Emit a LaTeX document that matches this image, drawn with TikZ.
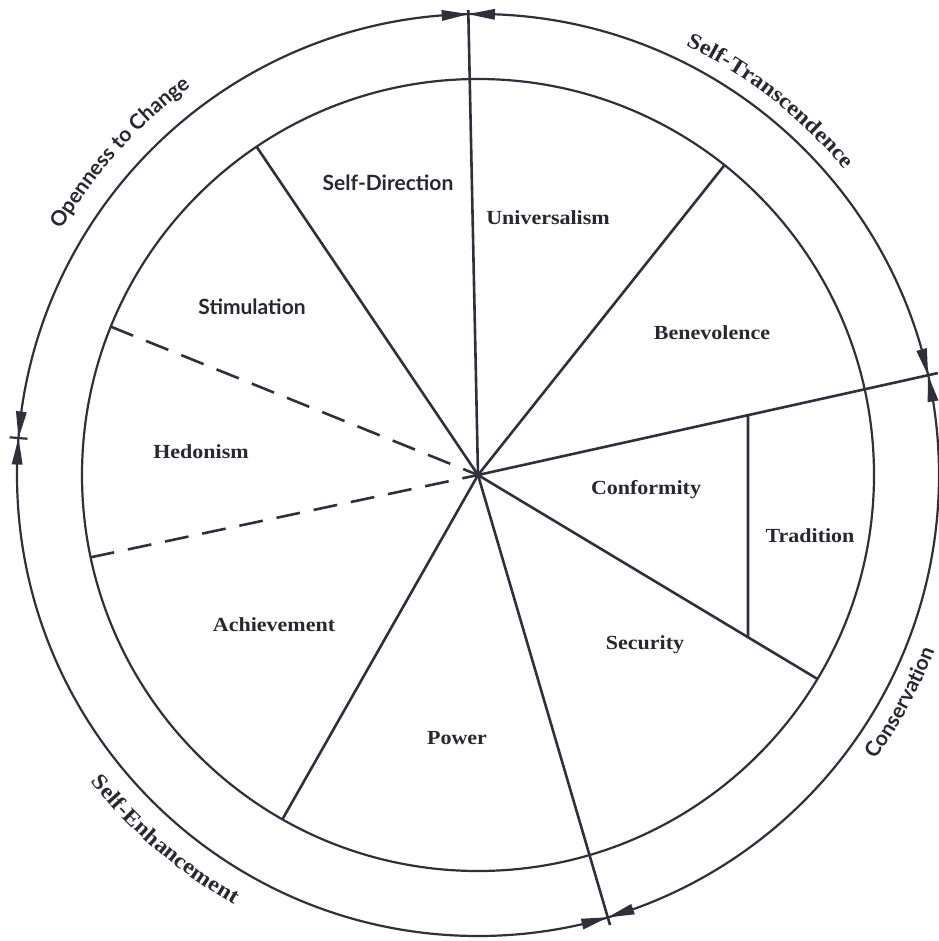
\documentclass[tikz,border=0pt]{standalone}
\usepackage{fontspec}
\setmainfont{Liberation Serif}
\newfontfamily\lblserif[FakeStretch=1.1]{Liberation Serif}
\newfontfamily\lblsans{Lato}
\usetikzlibrary{decorations.text}
\definecolor{ink}{RGB}{48,48,60}
\definecolor{txt}{RGB}{40,40,48}
\begin{document}
\begin{tikzpicture}[x=1pt,y=1pt,
  divider/.style={draw=ink,line width=2.6pt},
  ring/.style={draw=ink,line width=2.2pt},
  dashdiv/.style={divider,dash pattern=on 24pt off 14pt},
  serlbl/.style={font=\lblserif\bfseries\fontsize{20}{24}\selectfont,text=txt,inner sep=0pt},
  sanlbl/.style={font=\lblsans\bfseries\fontsize{21}{25}\selectfont,text=txt,inner sep=0pt},
  head/.style={fill=ink,draw=none},
]
\useasboundingbox (0,0) rectangle (938,-941);
\fill[white] (0,0) rectangle (938,-941);
\begin{scope}[shift={(478,-475)}]
\coordinate (O) at (0,0);
\draw[ring] (O) circle[radius=396pt];
\draw[ring] (O) circle[radius=461pt];
% divider end points
\coordinate (e1) at (91.2:465pt);
\coordinate (e2) at (51.5:396pt);
\coordinate (e3) at (124:396pt);
\coordinate (e4) at (12.5:471pt);
\coordinate (e5) at (158:396pt);
\coordinate (e6) at (192:396pt);
\coordinate (e7) at (240.4:396pt);
\coordinate (e8) at (-73.65:469pt);
\coordinate (e9) at (-31:396pt);
\coordinate (t1) at (12.5:276.55pt);
\coordinate (t2) at (-31:314.99pt);
\draw[divider] (O) -- (e1);
\draw[divider] (O) -- (e2);
\draw[divider] (O) -- (e3);
\draw[divider] (O) -- (e4);
\draw[dashdiv] (e5) -- (O);
\draw[dashdiv] (e6) -- (O);
\draw[divider] (O) -- (e7);
\draw[divider] (O) -- (e8);
\draw[divider] (O) -- (e9);
\draw[divider] (t1) -- (t2);
% arrow heads on the outer ring
\foreach \a in {91.2,12.5,-73.65,175.4}{
  \fill[head] (\a:461pt) -- ({\a+3.3}:466.5pt) -- ({\a+3.3}:455.5pt) -- cycle;
  \fill[head] (\a:461pt) -- ({\a-3.3}:466.5pt) -- ({\a-3.3}:455.5pt) -- cycle;
}
\coordinate (k1) at (175.4:452pt);
\coordinate (k2) at (175.4:470pt);
\draw[ring] (k1) -- (k2);
% arc labels
\path[decorate,decoration={text along path,text align=center,
  text={|\lblsans\bfseries\fontsize{21}{25}\selectfont\color{txt}|Openness to Change}}]
  (170:483pt) arc[start angle=170,end angle=106,radius=483pt];
\path[decorate,decoration={text along path,text align=center,
  text={|\lblserif\bfseries\fontsize{22}{26}\selectfont\color{txt}|Self-Transcendence}}]
  (80:477pt) arc[start angle=80,end angle=24,radius=477pt];
\path[decorate,decoration={text along path,text align=center,
  text={|\lblserif\bfseries\fontsize{22}{26}\selectfont\color{txt}|Self-Enhancement}}]
  (200:494pt) arc[start angle=200,end angle=258.8,radius=494pt];
\path[decorate,decoration={text along path,text align=center,
  text={|\lblsans\bfseries\fontsize{21}{25}\selectfont\color{txt}|Conservation}}]
  (-50:489pt) arc[start angle=-50,end angle=-6.6,radius=489pt];
% value labels
\node[sanlbl] (sd) at (-90,292) {Self-Direction};
\node[sanlbl] (st) at (-226,168) {Stimulation};
\node[serlbl] (un) at (70,257) {Universalism};
\node[serlbl] (be) at (234,142) {Benevolence};
\node[serlbl] (he) at (-277,23) {Hedonism};
\node[serlbl] (co) at (168,-15) {Conformity};
\node[serlbl] (tr) at (332,-61) {Tradition};
\node[serlbl] (ac) at (-204,-150) {Achievement};
\node[serlbl] (se) at (167,-170) {Security};
\node[serlbl] (po) at (-21,-263) {Power};
\end{scope}
\end{tikzpicture}
\end{document}
